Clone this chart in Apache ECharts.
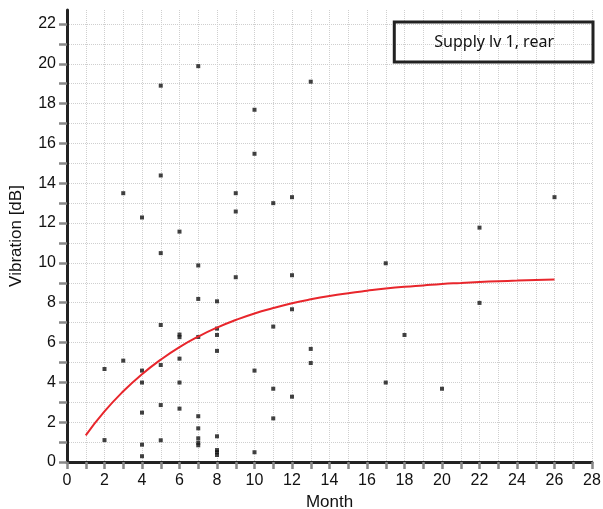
<!DOCTYPE html>
<html>
<head>
<meta charset="utf-8">
<script src="https://cdn.jsdelivr.net/npm/echarts@6/dist/echarts.min.js"></script>
<style>
  html, body { margin: 0; padding: 0; background: #fff; }
  #chartBox { width: 603px; height: 509px; }
</style>
</head>
<body>
<div id="chartBox"></div>
<script>
// measured points (month, vibration dB)
var pointMonth = [2, 2,
  3, 3,
  4, 4, 4, 4, 4, 4,
  5, 5, 5, 5, 5, 5, 5,
  6, 6, 6, 6, 6, 6,
  7, 7, 7, 7, 7, 7, 7, 7, 7,
  8, 8, 8, 8, 8, 8, 8, 8,
  9, 9, 9,
  10, 10, 10, 10,
  11, 11, 11, 11,
  12, 12, 12, 12,
  13, 13, 13,
  17, 17, 18, 20, 22, 22, 26];
var pointVib = [4.67, 1.1,
  13.5, 5.09,
  12.28, 4.59, 3.99, 2.48, 0.87, 0.29,
  18.9, 14.39, 10.49, 6.88, 4.87, 2.86, 1.09,
  11.57, 6.4, 6.27, 5.19, 3.99, 2.68,
  19.88, 9.87, 8.19, 6.28, 2.3, 1.69, 1.19, 0.97, 0.84,
  8.07, 6.7, 6.38, 5.58, 1.29, 0.6, 0.49, 0.35,
  13.5, 12.58, 9.28,
  17.69, 15.48, 4.59, 0.49,
  13.0, 6.8, 3.68, 2.19,
  13.3, 9.38, 7.67, 3.28,
  19.1, 5.68, 4.97,
  9.98, 3.99, 6.38, 3.68, 11.77, 7.99, 13.3];

// red trend curve
var curveMonth = [1, 2, 3, 4, 5, 6, 7, 8, 9, 10, 11, 12, 13, 14, 15, 16, 17, 18, 19, 20, 21, 22, 23, 24, 25, 26];
var curveVib = [1.34, 2.54, 3.55, 4.41, 5.14, 5.77, 6.30, 6.75, 7.13, 7.46, 7.73, 7.97, 8.17, 8.34, 8.48, 8.60,
  8.71, 8.80, 8.87, 8.94, 8.99, 9.04, 9.08, 9.11, 9.14, 9.16];

var yTicks = [0, 1, 2, 3, 4, 5, 6, 7, 8, 9, 10, 11, 12, 13, 14, 15, 16, 17, 18, 19, 20, 21, 22];
var yLabels = [0, 2, 4, 6, 8, 10, 12, 14, 16, 18, 20, 22];
var seriesName = 'Supply lv 1, rear';

var scatterData = pointMonth.map(function (m, i) { return [m, pointVib[i]]; });
var curveData = curveMonth.map(function (m, i) { return [m, curveVib[i]]; });

var chart = echarts.init(document.getElementById('chartBox'));
var font = 'Liberation Sans';
var option = {
  animation: false,
  grid: { left: 67, right: 11, top: 10, bottom: 47, outerBoundsMode: 'none' },
  legend: {
    data: [{ name: seriesName, icon: 'none' }],
    right: 10, top: 22,
    itemWidth: 0, itemGap: 0,
    padding: [12, 39, 12, 35],
    borderColor: '#222', borderWidth: 3, borderRadius: 0,
    selectedMode: false,
    textStyle: { fontFamily: 'Noto Sans', fontSize: 16, color: '#111' }
  },
  xAxis: {
    type: 'value', min: 0, max: 28, interval: 1,
    name: 'Month', nameLocation: 'middle', nameGap: 28,
    nameTextStyle: { fontFamily: font, fontSize: 17, color: '#111' },
    axisLine: { onZero: false, lineStyle: { color: '#222', width: 3 } },
    axisTick: { length: 7, lineStyle: { color: '#888', width: 2.5 } },
    axisLabel: {
      fontFamily: font, fontSize: 16, color: '#111', margin: 11,
      formatter: function (v) { return v % 2 === 0 ? String(v) : ''; }
    },
    splitLine: { show: true, lineStyle: { color: '#cfcfcf', type: 'dotted', width: 1 } }
  },
  yAxis: {
    type: 'value', min: 0, max: 22.7, interval: 1,
    name: 'Vibration [dB]', nameLocation: 'middle', nameGap: 42,
    nameTextStyle: { fontFamily: font, fontSize: 17, color: '#111' },
    axisLine: { onZero: false, lineStyle: { color: '#222', width: 3 } },
    axisTick: { length: 8, customValues: yTicks, lineStyle: { color: '#888', width: 2.5 } },
    axisLabel: { fontFamily: font, fontSize: 16, color: '#111', margin: 11, customValues: yLabels },
    splitLine: { show: true, lineStyle: { color: '#cfcfcf', type: 'dotted', width: 1 } }
  },
  series: [
    {
      name: seriesName,
      type: 'scatter',
      symbol: 'rect',
      symbolSize: 4,
      itemStyle: { color: '#111' },
      data: scatterData,
      z: 3
    },
    {
      name: 'fit',
      type: 'line',
      smooth: true,
      showSymbol: false,
      lineStyle: { color: '#e8262c', width: 2 },
      data: curveData,
      z: 4
    }
  ]
};
chart.setOption(option);
</script>
</body>
</html>
